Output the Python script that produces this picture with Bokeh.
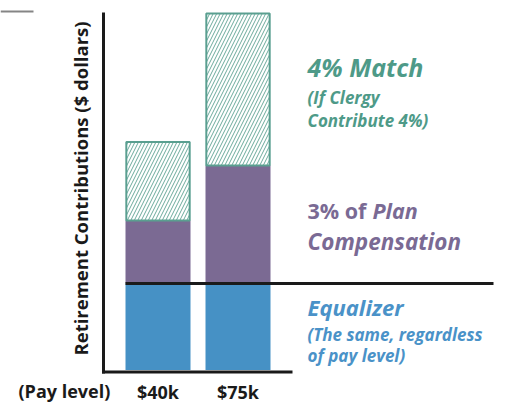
from bokeh.plotting import figure
from bokeh.models import Range1d, Label, LabelSet, ColumnDataSource
from bokeh.core.properties import value
from bokeh.embed import file_html
from bokeh.resources import INLINE

# ---- data ----
pay_levels = ["$40k", "$75k"]
x_pos = [1, 2]
equalizer = [1650, 1650]
plan_comp = [1200, 2250]   # 3% of plan compensation
match = [1500, 2900]       # 4% match

BLUE = "#4691c5"
PURPLE = "#7b6a93"
TEAL = "#5a9f90"
TEAL_TXT = "#4e9a88"
PURPLE_TXT = "#7a6a94"
BLUE_TXT = "#4a92c8"
DARK = "#1a1a1a"
FONT = "Open Sans"

W, H = 509, 402
PX = 80.0          # px per category unit
PY = 0.05243       # px per dollar
X0 = 1 - 157.5 / PX
Y0 = -(H - 369.5) / PY
p = figure(width=W, height=H, output_backend="svg", toolbar_location=None,
           x_range=Range1d(X0, X0 + W / PX), y_range=Range1d(Y0, Y0 + H / PY),
           min_border=0)
p.outline_line_color = None
p.grid.visible = False
p.axis.visible = False

def px_x(px):
    return X0 + px / PX

def px_y(py):
    return (369.5 - py) / PY

bw = 0.8125
b1 = [0] * 2
t1 = [b + e for b, e in zip(b1, equalizer)]
t2 = [b + c for b, c in zip(t1, plan_comp)]
t3 = [b + m for b, m in zip(t2, match)]

p.vbar(x=x_pos, width=bw, bottom=b1, top=t1, fill_color=BLUE, line_color=None)
p.vbar(x=x_pos, width=bw, bottom=t1, top=t2, fill_color=PURPLE, line_color=None)
p.vbar(x=x_pos, width=bw * 0.975, bottom=t2, top=t3, fill_color="white", line_color=TEAL, line_width=2,
       hatch_pattern="/", hatch_color=TEAL, hatch_scale=7, hatch_weight=0.9)

# equalizer level line
p.segment(x0=[x_pos[0] - bw / 2], y0=[equalizer[0]], x1=[px_x(493)], y1=[equalizer[0]],
          line_color=DARK, line_width=3)
# axes lines
p.segment(x0=[px_x(103)], y0=[px_y(373)], x1=[px_x(103)], y1=[px_y(12)], line_color=DARK, line_width=3)
p.segment(x0=[px_x(101.5)], y0=[px_y(371.5)], x1=[px_x(292)], y1=[px_y(371.5)], line_color=DARK, line_width=3)
# small gray rule at the top-left corner
p.segment(x0=[px_x(0)], y0=[px_y(11)], x1=[px_x(33)], y1=[px_y(11)], line_color="#858585", line_width=2)

# category labels
src = ColumnDataSource(dict(x=x_pos, y=[H - 398] * 2, t=pay_levels))
p.add_layout(LabelSet(x="x", y="y", text="t", source=src, y_units="screen",
                      text_align="center", text_baseline="alphabetic",
                      text_font=value(FONT), text_font_style="bold", text_font_size="18px",
                      text_color=DARK))

SHIFT = 8

def lab(txt, xp, yp, size, color, style="bold", angle=0, align="left"):
    if angle:
        xp = xp - SHIFT
        y = H - yp
    else:
        y = H - yp + SHIFT
    p.add_layout(Label(x=xp, y=y, x_units="screen", y_units="screen", text=txt,
                       text_font=FONT, text_font_style=style, text_font_size=size,
                       text_color=color, text_align=align, text_baseline="alphabetic",
                       angle=angle))

lab("(Pay level)", 18, 398, "18px", DARK)
lab("Retirement Contributions ($ dollars)", 88, 188, "18.5px", DARK, angle=1.5708, align="center")

lab("4% Match", 307, 74, "25px", TEAL_TXT, "bold italic")
lab("(If Clergy", 307, 105, "17px", TEAL_TXT, "bold italic")
lab("Contribute 4%)", 307, 128, "17px", TEAL_TXT, "bold italic")

lab("3% of", 307, 218, "21.5px", PURPLE_TXT, "bold")
lab("Plan", 372, 218, "21.5px", PURPLE_TXT, "bold italic")
lab("Compensation", 307, 249, "22.5px", PURPLE_TXT, "bold italic")

lab("Equalizer", 307, 314, "22px", BLUE_TXT, "bold italic")
lab("(The same, regardless", 307, 342, "17px", BLUE_TXT, "bold italic")
lab("of pay level)", 307, 363, "17px", BLUE_TXT, "bold italic")

open("out.html", "w").write(file_html(p, INLINE))
